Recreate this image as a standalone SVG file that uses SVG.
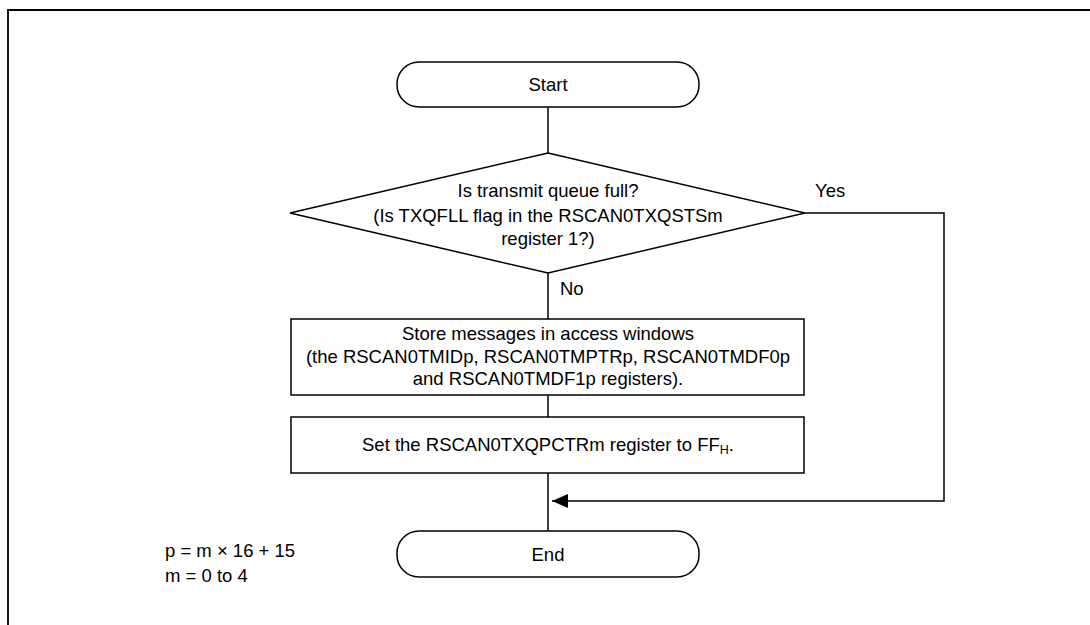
<svg xmlns="http://www.w3.org/2000/svg" width="1090" height="625" viewBox="0 0 1090 625">
<style>
.s{fill:#fff;stroke:#000;stroke-width:1.5}
.c{fill:none;stroke:#000;stroke-width:1.5}
text{font-family:"Liberation Sans",Arial,sans-serif;font-size:18.5px;fill:#000}
.m{text-anchor:middle}
</style>
<defs>
<marker id="ah" markerWidth="16" markerHeight="14" refX="16" refY="7" orient="auto" markerUnits="userSpaceOnUse">
<path d="M0,0 L16,7 L0,14 z" fill="#000"/>
</marker>
</defs>
<rect width="1090" height="625" fill="#fff"/>
<path d="M8,625 V10 H1090" fill="none" stroke="#000" stroke-width="1.8"/>
<g id="connectors">
<line class="c" x1="548" y1="107" x2="548" y2="153"/>
<line class="c" x1="548" y1="273" x2="548" y2="319"/>
<line class="c" x1="548" y1="395" x2="548" y2="417"/>
<line class="c" x1="548" y1="473" x2="548" y2="531"/>
<path class="c" d="M805,213 H944 V501 H552" marker-end="url(#ah)"/>
<text x="815" y="197">Yes</text>
<text x="560" y="295">No</text>
</g>
<g id="start">
<rect class="s" x="397" y="62" width="302" height="45" rx="22"/>
<text class="m" x="548" y="91">Start</text>
</g>
<g id="decision">
<polygon class="s" points="548,153 805,213 548,273 290,213"/>
<text class="m" x="548" y="197">Is transmit queue full?</text>
<text class="m" x="548" y="222">(Is TXQFLL flag in the RSCAN0TXQSTSm</text>
<text class="m" x="548" y="245">register 1?)</text>
</g>
<g id="store">
<rect class="s" x="291" y="319" width="513" height="76"/>
<text class="m" x="548" y="340">Store messages in access windows</text>
<text class="m" x="548" y="363">(the RSCAN0TMIDp, RSCAN0TMPTRp, RSCAN0TMDF0p</text>
<text class="m" x="548" y="385">and RSCAN0TMDF1p registers).</text>
</g>
<g id="set">
<rect class="s" x="291" y="417" width="513" height="56"/>
<text class="m" x="548" y="451">Set the RSCAN0TXQPCTRm register to FF<tspan font-size="12.5" dy="3">H</tspan><tspan dy="-3">.</tspan></text>
</g>
<g id="end">
<rect class="s" x="397" y="531" width="302" height="46" rx="22"/>
<text class="m" x="548" y="561">End</text>
</g>
<g id="note">
<text x="165" y="557">p = m × 16 + 15</text>
<text x="165" y="582">m = 0 to 4</text>
</g>
</svg>
